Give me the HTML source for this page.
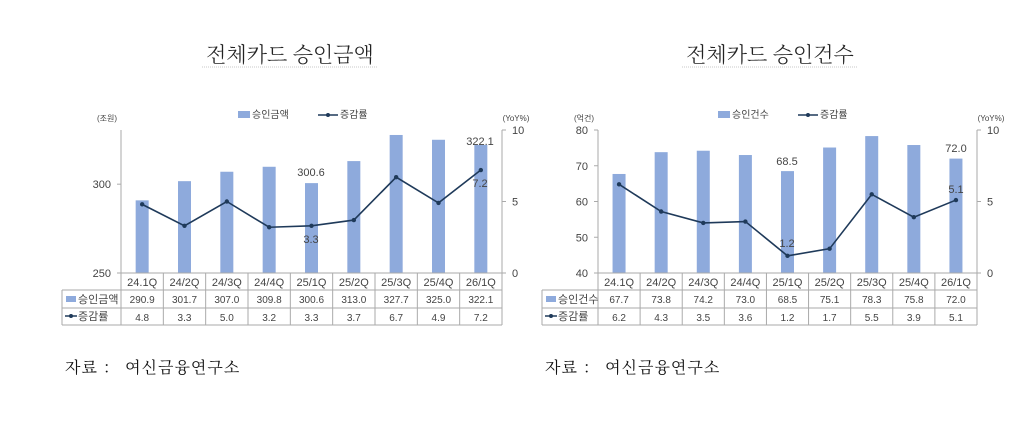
<!DOCTYPE html>
<html><head><meta charset="utf-8"><style>
body{margin:0;background:#fff;width:1023px;height:427px;overflow:hidden}
svg text{font-family:"Liberation Sans","Noto Sans CJK KR",sans-serif;fill:#444}
</style></head><body>
<svg id="s" width="1023" height="427" xmlns="http://www.w3.org/2000/svg"></svg>
<script>
var s=document.getElementById('s'),h='';
function T(x,y,t,sz,a,f){h+='<text x="'+x+'" y="'+y+'" font-size="'+sz+'" text-anchor="'+(a||'middle')+'"'+(f?' style="'+f+'"':'')+'>'+t+'</text>';}
function L(x1,y1,x2,y2,c,w,d){h+='<line x1="'+x1+'" y1="'+y1+'" x2="'+x2+'" y2="'+y2+'" stroke="'+(c||'#999')+'" stroke-width="'+(w||1)+'"'+(d?' stroke-dasharray="'+d+'"':'')+'/>';}
var cats=['24.1Q','24/2Q','24/3Q','24/4Q','25/1Q','25/2Q','25/3Q','25/4Q','26/1Q'];
function chart(o){
 var x0=o.x0,x1=o.x1,top=130,bot=273,cw=(x1-x0)/9;
 T(o.tc,62,o.title,21,'middle','font-family:\'Noto Serif CJK SC\',serif;fill:#222;font-weight:300');
 L(o.tc-88,67,o.tc+88,67,'#c8c8c8',1,'1,1');
 h+='<rect x="'+(o.tc-52)+'" y="111" width="12" height="7" fill="#8eaadc"/>';T(o.tc-38,118,o.bn,10,'start');
 L(o.tc+28,115,o.tc+48,115,'#1f3a5a',1.5);h+='<circle cx="'+(o.tc+38)+'" cy="115" r="2" fill="#1f3a5a"/>';T(o.tc+50,118,'증감률',10,'start');
 T(x0-14,121,o.unit,8);T(x1+14,121,'(YoY%)',8);
 L(x0,top,x0,bot,'#aaa');L(x1,top,x1,bot,'#aaa');
 o.lt.forEach(function(v){var y=bot-(v-o.lmin)/(o.lmax-o.lmin)*(bot-top);L(x0-4,y,x0,y,'#aaa');T(x0-10,y+4,v,11,'end');});
 [0,5,10].forEach(function(v){var y=bot-v/10*(bot-top);L(x1,y,x1+4,y,'#aaa');T(x1+10,y+4,v,11,'start');});
 var pts=[];
 o.b.forEach(function(v,i){var cx=x0+cw*(i+.5),y=bot-(v-o.lmin)/(o.lmax-o.lmin)*(bot-top);
  h+='<rect x="'+(cx-6.5)+'" y="'+y+'" width="13" height="'+(bot-y)+'" fill="#8eaadc"/>';
  pts.push([cx,bot-o.l[i]/10*(bot-top)]);});
 h+='<polyline points="'+pts.map(function(p){return p.join(',')}).join(' ')+'" fill="none" stroke="#1f3a5a" stroke-width="1.6"/>';
 pts.forEach(function(p){h+='<circle cx="'+p[0]+'" cy="'+p[1]+'" r="2.2" fill="#1f3a5a"/>';});
 o.ann.forEach(function(a){T(a[0],a[1],a[2],11);});
 var tl=o.tl;
 L(tl,290,x1,290,'#aaa');L(tl,308,x1,308,'#aaa');L(tl,325,x1,325,'#aaa');L(x0,273,x1,273,'#aaa');
 L(tl,290,tl,325,'#aaa');
 for(var i=0;i<=9;i++)L(x0+cw*i,273,x0+cw*i,325,'#aaa');
 cats.forEach(function(c,i){var cx=x0+cw*(i+.5);T(cx,286,c,11);T(cx,303,o.b[i].toFixed(1),10);T(cx,321,o.l[i].toFixed(1),10);});
 h+='<rect x="'+(tl+4)+'" y="296" width="10" height="6" fill="#8eaadc"/>';T(tl+16,303,o.bn,11,'start');
 L(tl+3,316,tl+15,316,'#1f3a5a',1.5);h+='<circle cx="'+(tl+9)+'" cy="316" r="2" fill="#1f3a5a"/>';T(tl+16,320,'증감률',11,'start');
 T(tl+3,373,'자료 ： 여신금융연구소',16,'start','font-family:\'Noto Serif CJK SC\',serif;fill:#111;letter-spacing:1px');
}
chart({x0:121,x1:502,tc:290,tl:62,title:'전체카드 승인금액',bn:'승인금액',unit:'(조원)',lmin:250,lmax:330.5,lt:[250,300],
 b:[290.9,301.7,307.0,309.8,300.6,313.0,327.7,325.0,322.1],l:[4.8,3.3,5.0,3.2,3.3,3.7,6.7,4.9,7.2],
 ann:[[311,176,'300.6'],[311,243,'3.3'],[480,145,'322.1'],[480,187,'7.2']]});
chart({x0:598,x1:977,tc:770,tl:542,title:'전체카드 승인건수',bn:'승인건수',unit:'(억건)',lmin:40,lmax:80,lt:[40,50,60,70,80],
 b:[67.7,73.8,74.2,73.0,68.5,75.1,78.3,75.8,72.0],l:[6.2,4.3,3.5,3.6,1.2,1.7,5.5,3.9,5.1],
 ann:[[787,165,'68.5'],[787,247,'1.2'],[956,152,'72.0'],[956,193,'5.1']]});
s.innerHTML=h;
</script>
</body></html>
